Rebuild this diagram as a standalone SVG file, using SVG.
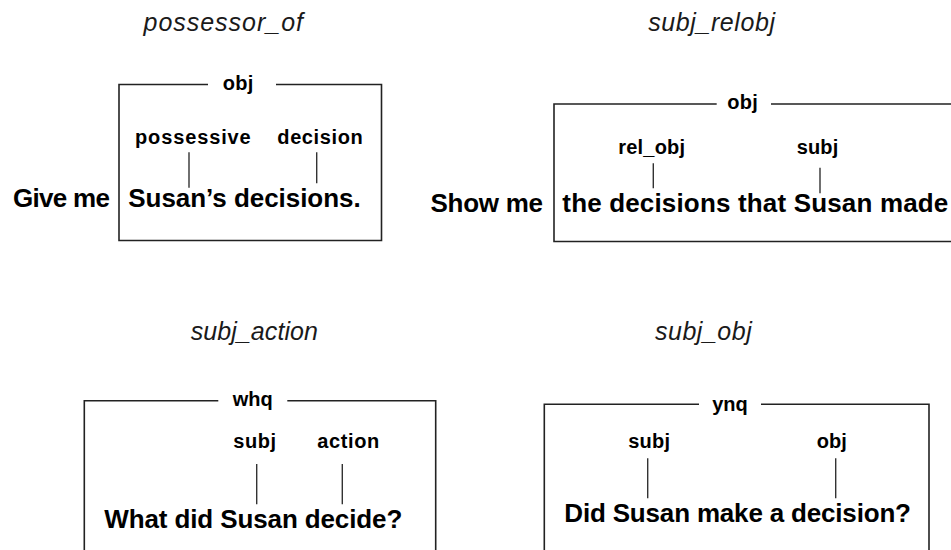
<svg xmlns="http://www.w3.org/2000/svg" width="951" height="550" viewBox="0 0 951 550">
<style>
.title{font-family:"Liberation Sans",Arial,sans-serif;font-style:italic;font-size:25px;fill:#1a1a1a}
.lbl{font-family:"Liberation Sans",Arial,sans-serif;font-weight:bold;font-size:20px;fill:#000}
.sent{font-family:"Liberation Sans",Arial,sans-serif;font-weight:bold;font-size:26px;fill:#000}
.box{fill:none;stroke:#222;stroke-width:1.6}
.conn{stroke:#333;stroke-width:1.4;fill:none}
</style>
<rect width="951" height="550" fill="#fff"/>

<!-- Panel 1: possessor_of -->
<g id="panel-possessor_of">
  <text class="title" x="143.5" y="31" textLength="159.5">possessor_of</text>
  <g id="p1-obj">
    <path class="box" d="M208,84.5 H119 V240.5 H381.5 V84.5 H276"/>
    <text class="lbl" x="222.7" y="90" textLength="30.6">obj</text>
  </g>
  <g id="p1-possessive"><text class="lbl" x="135" y="144" textLength="115.7">possessive</text></g>
  <g id="p1-decision"><text class="lbl" x="277.3" y="144" textLength="85.4">decision</text></g>
  <g id="p1-giveme"><text class="sent" x="13" y="207" textLength="97">Give me</text></g>
  <g id="p1-sentence"><text class="sent" x="128.3" y="207" textLength="232.4">Susan’s decisions.</text></g>
</g>

<!-- Panel 2: subj_relobj -->
<g id="panel-subj_relobj">
  <text class="title" x="648.3" y="31" textLength="126.7">subj_relobj</text>
  <g id="p2-obj">
    <path class="box" d="M716.7,104 H554 V241.5 H960 M771,104 H960"/>
    <text class="lbl" x="727.3" y="108.5" textLength="30.4">obj</text>
  </g>
  <g id="p2-rel_obj"><text class="lbl" x="618.3" y="154" textLength="66.7">rel_obj</text></g>
  <g id="p2-subj"><text class="lbl" x="796.7" y="154" textLength="41.6">subj</text></g>
  <g id="p2-showme"><text class="sent" x="430.5" y="211.5" textLength="112.5">Show me</text></g>
  <g id="p2-sentence"><text class="sent" x="562.3" y="211.5" textLength="386">the decisions that Susan made</text></g>
</g>

<!-- Panel 3: subj_action -->
<g id="panel-subj_action">
  <text class="title" x="190.7" y="340" textLength="127.3">subj_action</text>
  <g id="p3-whq">
    <path class="box" d="M218.3,400.7 H84.3 V556 M287.3,400.7 H435.7 V556"/>
    <text class="lbl" x="232.7" y="405.5" textLength="40">whq</text>
  </g>
  <g id="p3-subj"><text class="lbl" x="233.3" y="448.3" textLength="42.7">subj</text></g>
  <g id="p3-action"><text class="lbl" x="317.3" y="448.3" textLength="62">action</text></g>
  <g id="p3-sentence"><text class="sent" x="104.3" y="527.7" textLength="298">What did Susan decide?</text></g>
</g>

<!-- Panel 4: subj_obj -->
<g id="panel-subj_obj">
  <text class="title" x="655" y="340" textLength="96.7">subj_obj</text>
  <g id="p4-ynq">
    <path class="box" d="M699,404.3 H544.3 V556 M761,404.3 H929 V556"/>
    <text class="lbl" x="712.3" y="410.5" textLength="35.4">ynq</text>
  </g>
  <g id="p4-subj"><text class="lbl" x="628.3" y="448.3" textLength="41.7">subj</text></g>
  <g id="p4-obj"><text class="lbl" x="816.7" y="448.3" textLength="30">obj</text></g>
  <g id="p4-sentence"><text class="sent" x="564.3" y="522" textLength="346.7">Did Susan make a decision?</text></g>
</g>

<!-- Connectors -->
<g id="connectors">
  <line class="conn" x1="189" y1="152.3" x2="189" y2="187.7"/>
  <line class="conn" x1="316.7" y1="152.3" x2="316.7" y2="183.3"/>
  <line class="conn" x1="653.3" y1="163.3" x2="653.3" y2="188.3"/>
  <line class="conn" x1="820" y1="167.7" x2="820" y2="193.3"/>
  <line class="conn" x1="256.7" y1="464" x2="256.7" y2="504.3"/>
  <line class="conn" x1="342.3" y1="464" x2="342.3" y2="504.3"/>
  <line class="conn" x1="647.7" y1="458.3" x2="647.7" y2="498.3"/>
  <line class="conn" x1="835.7" y1="458.3" x2="835.7" y2="498.3"/>
</g>
</svg>
